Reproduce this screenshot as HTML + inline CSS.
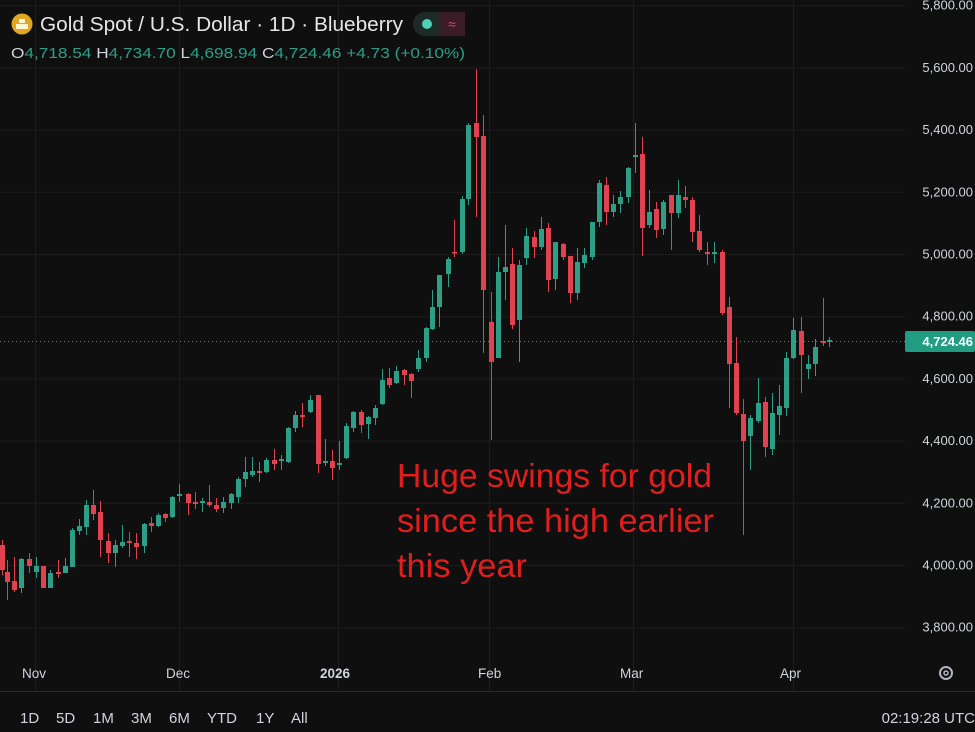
<!DOCTYPE html>
<html><head><meta charset="utf-8"><style>
html,body{margin:0;padding:0;background:#0f0f0f;width:975px;height:732px;overflow:hidden;font-family:"Liberation Sans",sans-serif}
svg{position:absolute;left:0;top:0}
</style></head><body>
<svg id="s" width="975" height="732" xmlns="http://www.w3.org/2000/svg">
<rect width="975" height="732" fill="#0f0f0f"/>
<g id="grid" stroke="#1d1d1d" stroke-width="1"></g>
<line x1="0" y1="341.5" x2="905" y2="341.5" stroke="#2e9e86" stroke-dasharray="1,3"/>
<g id="c"></g>
<g id="ax" font-size="13" fill="#d1d4dc" text-anchor="end"></g>
<rect x="905" y="331" width="70" height="21" rx="2" fill="#1f9c82"/>
<text x="973" y="346" font-size="13" font-weight="bold" fill="#fff" text-anchor="end">4,724.46</text>
<g font-size="13.5" fill="#d1d4dc">
<text x="22" y="678">Nov</text><text x="166" y="678">Dec</text><text x="320" y="678" font-weight="bold">2026</text>
<text x="478" y="678">Feb</text><text x="620" y="678">Mar</text><text x="780" y="678">Apr</text>
</g>
<circle cx="946" cy="673" r="6" fill="none" stroke="#b2b5be" stroke-width="2"/>
<circle cx="946" cy="673" r="2" fill="none" stroke="#b2b5be" stroke-width="1.5"/>
<line x1="0" y1="691.5" x2="975" y2="691.5" stroke="#2a2a2a"/>
<g font-size="15" fill="#d1d4dc">
<text x="20" y="723">1D</text><text x="56" y="723">5D</text><text x="93" y="723">1M</text><text x="131" y="723">3M</text>
<text x="169" y="723">6M</text><text x="207" y="723">YTD</text><text x="256" y="723">1Y</text><text x="291" y="723">All</text>
<text x="975" y="723" text-anchor="end">02:19:28 UTC</text>
</g>
<g font-size="33" fill="#e01e1e">
<text x="397" y="487" textLength="315" lengthAdjust="spacingAndGlyphs">Huge swings for gold</text>
<text x="397" y="532" textLength="317" lengthAdjust="spacingAndGlyphs">since the high earlier</text>
<text x="397" y="577" textLength="130" lengthAdjust="spacingAndGlyphs">this year</text>
</g>
<circle cx="22" cy="24" r="10.5" fill="#e0a722"/>
<rect x="16" y="24" width="12" height="5" fill="#fff5d0"/><rect x="19" y="19" width="6" height="4" fill="#fff5d0"/>
<text x="40" y="31" font-size="20" fill="#e6e6e6" textLength="363" lengthAdjust="spacingAndGlyphs">Gold Spot / U.S. Dollar · 1D · Blueberry</text>
<rect x="413" y="12" width="52" height="24" rx="12" fill="#1e2a28"/>
<rect x="439" y="12" width="26" height="24" fill="#3a1c26"/>
<circle cx="427" cy="24" r="5" fill="#4fd1b8"/>
<text x="452" y="29" font-size="14" fill="#e0436a" text-anchor="middle">≈</text>
<text x="11" y="58" font-size="15" fill="#2e9e86" textLength="454" lengthAdjust="spacingAndGlyphs"><tspan fill="#d1d4dc">O</tspan>4,718.54 <tspan fill="#d1d4dc">H</tspan>4,734.70 <tspan fill="#d1d4dc">L</tspan>4,698.94 <tspan fill="#d1d4dc">C</tspan>4,724.46 +4.73 (+0.10%)</text>
</svg>
<script>
var NS="http://www.w3.org/2000/svg";
function el(t,a,p){var e=document.createElementNS(NS,t);for(var k in a)e.setAttribute(k,a[k]);p.appendChild(e);return e;}
var g=document.getElementById("grid"),ax=document.getElementById("ax");
var prices=[5800,5600,5400,5200,5000,4800,4600,4400,4200,4000,3800];
prices.forEach(function(p){var y=254+(5000-p)*0.311;el("line",{x1:0,x2:905,y1:y+.5,y2:y+.5},g);
var t=el("text",{x:973,y:y+4.5},ax);t.textContent=p.toLocaleString("en-US")+".00";});
[35,179,338,489,633,793].forEach(function(x){el("line",{x1:x+.5,x2:x+.5,y1:0,y2:691},g);});
var G="#2e9e86",R="#e0424f";
var d=[
[2,545,570,540,575,R],[7,572,582,560,600,R],[14,581,590,557,592,R],[21,559,588,558,593,G],[29,559,566,553,573,R],
[36,566,572,557,578,G],[43,566,588,566,588,R],[50,573,588,570,588,G],[58,572,574,560,578,R],[65,566,573,558,573,G],
[72,530,567,528,567,G],[79,526,531,519,535,G],[86,505,527,500,535,G],[93,505,514,490,520,R],[100,512,540,501,557,R],
[108,541,553,533,563,R],[115,545,553,540,567,G],[122,542,546,525,548,G],[129,541,543,532,557,R],[136,543,547,533,559,R],
[144,524,546,523,553,G],[151,523,526,517,532,R],[158,515,526,513,527,G],[165,514,518,513,522,R],[172,497,517,496,518,G],
[179,494,496,484,502,G],[188,494,503,493,515,R],[195,502,504,492,509,R],[202,501,503,498,512,G],[209,502,505,485,507,R],
[216,505,509,498,512,R],[223,502,508,497,513,G],[231,494,503,493,509,G],[238,479,497,477,503,G],[245,472,479,457,487,G],
[252,471,475,457,477,G],[259,471,473,462,482,R],[266,460,472,458,473,G],[274,460,464,449,470,R],[281,459,461,455,470,G],
[288,428,462,427,463,G],[295,415,428,411,432,G],[302,415,417,403,427,R],[310,400,412,395,413,G],[318,395,464,395,473,R],
[325,461,463,439,466,G],[332,461,468,450,480,R],[339,463,465,441,470,G],[346,426,458,423,459,G],[353,412,428,411,432,G],
[361,412,425,410,433,R],[368,417,424,416,439,G],[375,408,418,405,425,G],[382,380,404,369,405,G],[389,378,385,368,388,R],
[396,371,383,366,384,G],[404,370,375,369,385,R],[411,374,381,373,398,R],
[418,358,369,350,372,G],[426,328,358,327,362,G],[432,307,329,290,330,G],[439,275,307,275,327,G],[448,259,274,257,287,G],
[454,252,253,220,257,R],[462,199,252,196,254,G],[468,125,199,123,205,G],[476,123,137,69,217,R],[483,136,290,115,353,R],
[491,322,362,292,440,R],[498,272,358,257,358,G],[505,267,272,225,300,G],[512,264,325,248,329,R],[519,265,320,260,362,G],
[526,236,258,228,265,G],[534,237,247,231,258,R],[541,229,247,217,250,G],[548,228,280,223,292,R],[555,242,279,242,290,G],
[563,244,257,243,260,R],[570,256,293,256,303,R],[577,262,293,248,300,G],[584,255,263,248,268,G],[592,222,257,222,260,G],
[599,183,222,180,227,G],[606,185,212,177,225,R],[613,204,212,195,217,G],[620,197,204,191,213,G],[628,168,197,167,203,G],
[635,155,157,123,173,G],[642,154,228,137,256,R],[649,212,225,190,228,G],[656,209,230,202,238,R],[663,202,229,200,235,G],
[671,195,213,195,250,R],[678,195,213,180,218,G],[685,197,200,186,208,R],[692,200,232,197,242,R],[699,231,250,215,252,R],
[707,252,254,242,265,R],[714,252,254,242,263,G],[722,252,313,250,315,R],[729,307,364,297,408,R],[736,363,413,337,415,R],
[743,414,441,399,535,R],[750,418,436,415,470,G],[758,403,421,378,423,G],[765,402,447,397,457,R],[772,413,449,393,455,G],
[779,406,415,385,435,G],[786,358,408,352,416,G],[793,330,358,318,359,G],[801,331,355,317,393,R],[808,364,369,355,379,G],
[815,347,364,339,376,G],[823,341,343,298,346,R],[829,340,342,337,347,G]];
var cg=document.getElementById("c");
d.forEach(function(c){el("line",{x1:c[0]+.5,x2:c[0]+.5,y1:c[3],y2:c[4],stroke:c[5],"stroke-width":1},cg);
el("rect",{x:c[0]-2,y:c[1],width:5,height:Math.max(1.5,c[2]-c[1]),fill:c[5]},cg);});
</script>
</body></html>
